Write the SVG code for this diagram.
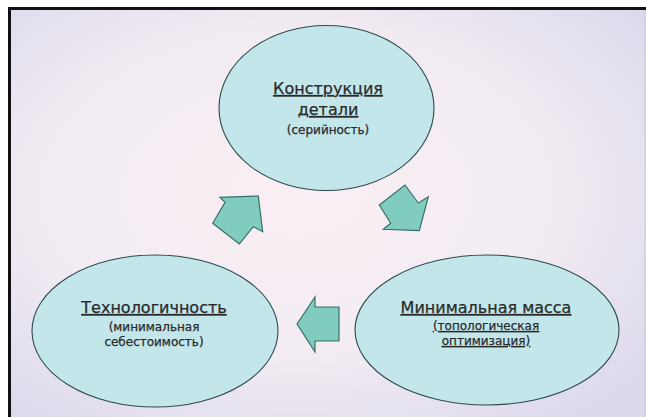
<svg xmlns="http://www.w3.org/2000/svg" width="646" height="417" viewBox="0 0 646 417">
<defs>
<radialGradient id="bg" cx="0.45" cy="0.45" r="0.7">
<stop offset="0" stop-color="#f9eef3"/>
<stop offset="0.55" stop-color="#f3ecf3"/>
<stop offset="1" stop-color="#dcd9ec"/>
</radialGradient>
<style>
.node{fill:#c3e6eb;stroke:#2e4a4a;stroke-width:1.1}
.arrow{fill:#80ccbf;stroke:#3a7069;stroke-width:1.2;stroke-linejoin:miter}
text{font-family:"DejaVu Sans",sans-serif;fill:#2a2a2a;text-anchor:middle;stroke:#2a2a2a;stroke-width:0.25}
.t{font-size:16px;text-decoration:underline}
.s{font-size:12px}
.su{font-size:12px;text-decoration:underline}
</style>
</defs>
<rect x="0" y="0" width="646" height="417" fill="#ffffff"/>
<rect x="11" y="10" width="635" height="407" fill="url(#bg)"/>
<path d="M9.5 417 V8.5 H646" fill="none" stroke="#111" stroke-width="3"/>
<line x1="645" y1="10" x2="645" y2="417" stroke="#c8c8d0" stroke-width="1"/>
<g id="connectors">
<polygon class="arrow" points="379.3,205 405,185 418.3,203 428.3,196.7 419.3,230.7 383.3,229.3 390.7,223.3"/>
<polygon class="arrow" points="297,324 315,297 315,307 339,307 339,341 315,341 315,352"/>
<polygon class="arrow" points="258.3,196 220,197.3 225,202.3 212.7,223.3 239.3,244 253.3,226.7 262.7,231.7"/>
</g>
<g id="node-top">
<ellipse class="node" cx="326.5" cy="108" rx="107.5" ry="82.5"/>
<text class="t" x="328" y="94">Конструкция</text>
<text class="t" x="328" y="115">детали</text>
<text class="s" x="328" y="134">(серийность)</text>
</g>
<g id="node-left">
<ellipse class="node" cx="155" cy="331" rx="123" ry="76"/>
<text class="t" x="154" y="313">Технологичность</text>
<text class="s" x="154" y="331">(минимальная</text>
<text class="s" x="154" y="346">себестоимость)</text>
</g>
<g id="node-right">
<ellipse class="node" cx="487" cy="330" rx="132" ry="75"/>
<text class="t" x="486" y="313">Минимальная масса</text>
<text class="su" x="486" y="330">(топологическая</text>
<text class="su" x="486" y="345">оптимизация)</text>
</g>
</svg>
